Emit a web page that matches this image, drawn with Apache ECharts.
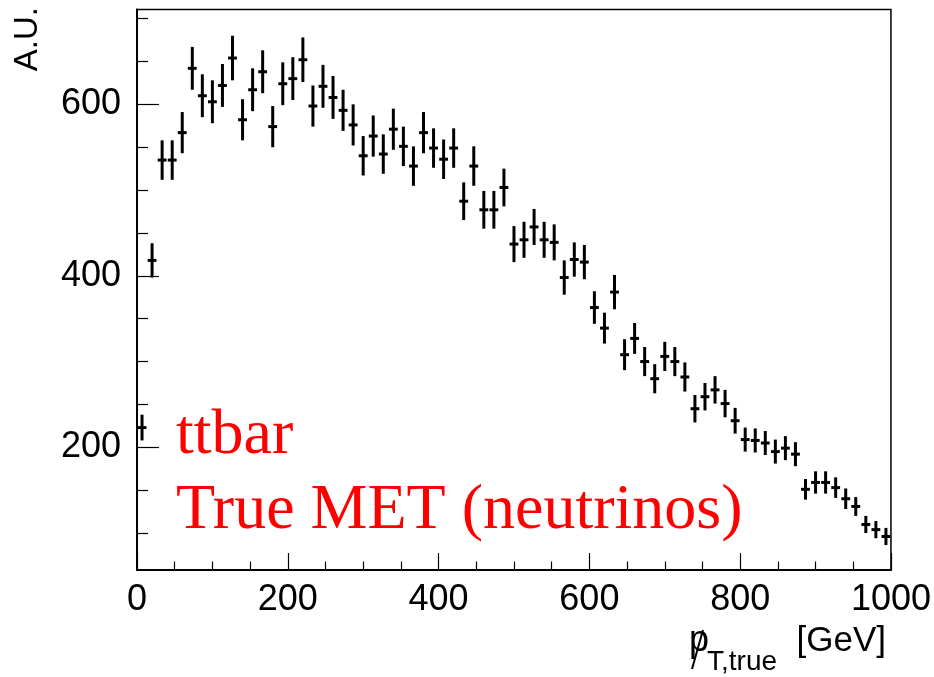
<!DOCTYPE html>
<html>
<head>
<meta charset="utf-8">
<script src="https://cdn.jsdelivr.net/npm/echarts@6/dist/echarts.min.js"></script>
<style>
html,body{margin:0;padding:0;background:#fff;}
#chart{width:934px;height:677px;}
</style>
</head>
<body>
<div id="chart"></div>
<script>
// Bin centres (75 bins, 0-1000 GeV)
const binCenters = [6.67,20,33.33,46.67,60,73.33,86.67,100,113.33,126.67,140,153.33,166.67,180,193.33,206.67,220,233.33,246.67,260,273.33,286.67,300,313.33,326.67,340,353.33,366.67,380,393.33,406.67,420,433.33,446.67,460,473.33,486.67,500,513.33,526.67,540,553.33,566.67,580,593.33,606.67,620,633.33,646.67,660,673.33,686.67,700,713.33,726.67,740,753.33,766.67,780,793.33,806.67,820,833.33,846.67,860,873.33,886.67,900,913.33,926.67,940,953.33,966.67,980,993.33];
const counts = [223,418,535,535,567,642,610,603,622,654,582,617,638,574,624,630,652,598,621,608,593,576,540,563,542,571,551,528,567,549,536,549,487,528,477,477,503,437,442,457,442,439,398,419,416,363,339,381,308,327,300,280,306,300,282,245,259,267,251,231,209,208,205,195,199,192,151,159,159,153,140,131,110,104,96];
const errors = [15,20,23,23,24,25,25,25,25,26,24,25,25,24,25,25,26,24,25,25,24,24,23,24,23,24,23,23,24,23,23,23,22,23,22,22,22,21,21,21,21,21,20,20,20,19,18,20,18,18,17,17,17,17,17,16,16,16,16,15,14,14,14,14,14,14,12,13,13,12,12,11,10,10,10];
const xMajorTicks = [0,200,400,600,800,1000];
const yMajorTicks = [200,400,600];
const yMinorTicks = [100,150,250,300,350,450,500,550,650,700];
const binHalfWidth = 6.67;

const data = binCenters.map((x,i)=>[x, counts[i], errors[i]]);

const chart = echarts.init(document.getElementById('chart'));
const FONT = 'Liberation Sans, Arial, Helvetica, sans-serif';
const SERIF = 'Liberation Serif, Times New Roman, serif';
const yMin = 56.9, yMax = 710.6;

chart.setOption({
  animation:false,
  backgroundColor:'#fff',
  grid:{left:137, right:43, top:9.5, bottom:107, show:true, borderColor:'#000', borderWidth:1.5, backgroundColor:'transparent'},
  xAxis:[{
    type:'value', min:0, max:1000, interval:200, position:'bottom',
    axisLine:{show:true, lineStyle:{color:'#000', width:2}},
    axisTick:{show:true, inside:true, length:17, lineStyle:{color:'#000', width:1.2}},
    minorTick:{show:true, splitNumber:4, length:8.5, lineStyle:{color:'#000', width:1.2}},
    splitLine:{show:false},
    axisLabel:{show:true, color:'#000', fontSize:36, fontFamily:FONT, margin:12,
      customValues:xMajorTicks, formatter:v=>String(v)}
  }],
  yAxis:[{
    type:'value', min:yMin, max:yMax, position:'left',
    axisLine:{show:true, lineStyle:{color:'#000', width:2}},
    axisTick:{show:true, inside:true, length:22, customValues:yMajorTicks, lineStyle:{color:'#000', width:1.2}},
    splitLine:{show:false},
    axisLabel:{show:true, color:'#000', fontSize:36, fontFamily:FONT, margin:16, customValues:yMajorTicks}
  },{
    type:'value', min:yMin, max:yMax, position:'left', offset:0,
    axisLine:{show:false},
    axisTick:{show:true, inside:true, length:11, customValues:yMinorTicks, lineStyle:{color:'#000', width:1.2}},
    splitLine:{show:false},
    axisLabel:{show:false}
  }],
  series:[{
    type:'custom',
    xAxisIndex:0, yAxisIndex:0,
    data:data,
    renderItem:function(params, api){
      const x = api.value(0), y = api.value(1), e = api.value(2);
      const c = api.coord([x,y]);
      const t = api.coord([x,y+e]);
      const b = api.coord([x,y-e]);
      const l = api.coord([x-binHalfWidth*0.88,y]);
      const r = api.coord([x+binHalfWidth*0.88,y]);
      return {type:'group', children:[
        {type:'line', shape:{x1:c[0],y1:t[1],x2:c[0],y2:b[1]}, style:{stroke:'#000', lineWidth:3}},
        {type:'line', shape:{x1:l[0],y1:c[1],x2:r[0],y2:c[1]}, style:{stroke:'#000', lineWidth:3}}
      ]};
    }
  }],
  graphic:[
    {type:'text', x:28, y:7, rotation:Math.PI/2,
      style:{text:'A.U.', font:'33px '+FONT, fill:'#000', align:'right', verticalAlign:'middle'}},
    {type:'text', x:886, y:641,
      style:{text:'[GeV]', font:'35px '+FONT, fill:'#000', align:'right', verticalAlign:'middle'}},
    {type:'text', x:707, y:662,
      style:{text:'T,true', font:'28px '+FONT, fill:'#000', align:'left', verticalAlign:'middle'}},
    {type:'text', x:689, y:641,
      style:{text:'p', font:'36px '+FONT, fill:'#000', align:'left', verticalAlign:'middle'}},
    {type:'line', shape:{x1:692, y1:669, x2:703, y2:630}, style:{stroke:'#000', lineWidth:2}},
    {type:'text', x:176, y:436,
      style:{text:'ttbar', font:'64px '+SERIF, fill:'#ff0000', align:'left', verticalAlign:'middle'}},
    {type:'text', x:176, y:511,
      style:{text:'True MET (neutrinos)', font:'64px '+SERIF, fill:'#ff0000', align:'left', verticalAlign:'middle'}}
  ]
});
</script>
</body>
</html>
